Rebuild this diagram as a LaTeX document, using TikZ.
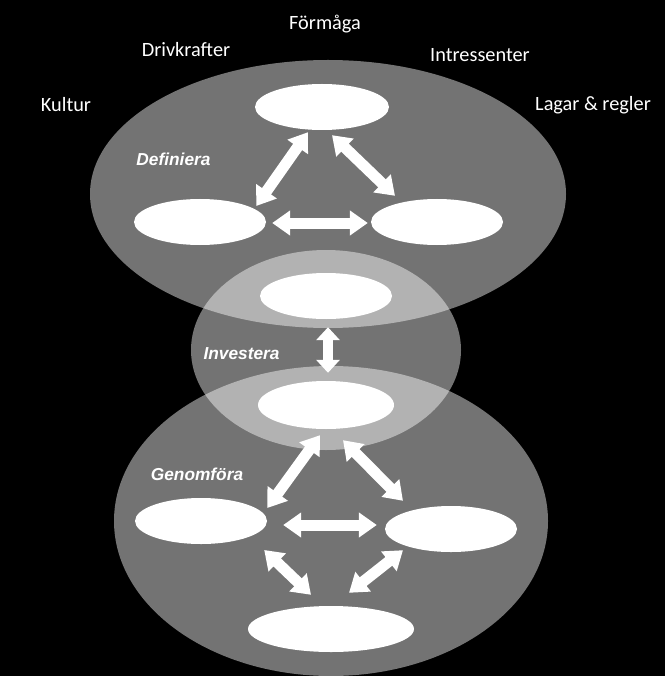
\documentclass[tikz,border=0pt]{standalone}
\usepackage{fontspec}
\usetikzlibrary{arrows.meta,shapes.geometric}
\newfontfamily\outerfont{Carlito}
\newfontfamily\innerfont{Liberation Sans}
\tikzset{
  bigell/.style={fill=white, fill opacity=0.45},
  wbox/.style={ellipse, fill=white, draw=none, inner sep=0pt},
  dbl/.style={draw=white, line width=11pt,
    {Triangle[length=18pt,width=24pt]}-{Triangle[length=18pt,width=24pt]}},
  dblv/.style={draw=white, line width=9.5pt,
    {Triangle[length=13pt,width=23pt]}-{Triangle[length=13pt,width=23pt]}},
  outerlbl/.style={text=white, anchor=base, font=\outerfont\fontsize{20.3pt}{24pt}\selectfont},
  innerlbl/.style={text=white, anchor=base, font=\innerfont\bfseries\itshape\fontsize{17.3pt}{20pt}\selectfont}
}
\begin{document}
\begin{tikzpicture}[x=1pt,y=-1pt]
\useasboundingbox (0,0) rectangle (665,676);
\fill[black] (0,0) rectangle (665,676);
% large translucent ellipses
\fill[bigell] (328,194) ellipse (238 and 134);
\fill[bigell] (326,350) ellipse (135 and 100);
\fill[bigell] (331,521) ellipse (217 and 155);
% outer labels
\node[outerlbl] (kultur) at (66,112) {Kultur};
\node[outerlbl] (driv) at (186,57) {Drivkrafter};
\node[outerlbl] (form) at (325,30) {Förmåga};
\node[outerlbl] (intr) at (480,62) {Intressenter};
\node[outerlbl] (lagar) at (593,111) {Lagar \& regler};
% inner labels
\node[innerlbl] (def) at (173.5,166) {Definiera};
\node[innerlbl] (inv) at (241.5,359) {Investera};
\node[innerlbl] (gen) at (197,480) {Genomföra};
% white ellipses
\node[wbox, minimum width=134pt, minimum height=46pt] (T) at (322,107) {};
\node[wbox, minimum width=132pt, minimum height=46pt] (L) at (200,222) {};
\node[wbox, minimum width=132pt, minimum height=46pt] (R) at (437,222) {};
\node[wbox, minimum width=132pt, minimum height=46pt] (MT) at (326,296) {};
\node[wbox, minimum width=136pt, minimum height=48pt] (MB) at (326,405) {};
\node[wbox, minimum width=132pt, minimum height=46pt] (BL) at (201,521) {};
\node[wbox, minimum width=132pt, minimum height=46pt] (BR) at (451,529) {};
\node[wbox, minimum width=166pt, minimum height=46pt] (BB) at (331,629) {};
% arrows, top group
\draw[dbl] ([shift={(-10,-16)}]L.east) -- ([shift={(-14,2)}]T.south);
\draw[dbl] ([shift={(10,5)}]T.south) -- ([shift={(-42,-3)}]R.north);
\draw[dbl] ([shift={(6,1)}]L.east) -- ([shift={(-3,1)}]R.west);
% middle arrow
\draw[dblv] ([shift={(2,8)}]MT.south) -- ([shift={(2,-8)}]MB.north);
% arrows, bottom group
\draw[dbl] ([shift={(0,-13)}]BL.east) -- ([shift={(-6,6)}]MB.south);
\draw[dbl] ([shift={(17,11)}]MB.south) -- ([shift={(-48,-5)}]BR.north);
\draw[dbl] ([shift={(16,4)}]BL.east) -- ([shift={(-8,-4)}]BR.west);
\draw[dbl] ([shift={(-3,29)}]BL.east) -- ([shift={(-20,-11)}]BB.north);
\draw[dbl] ([shift={(-48,-2)}]BR.south) -- ([shift={(18,-13)}]BB.north);
\end{tikzpicture}
\end{document}
